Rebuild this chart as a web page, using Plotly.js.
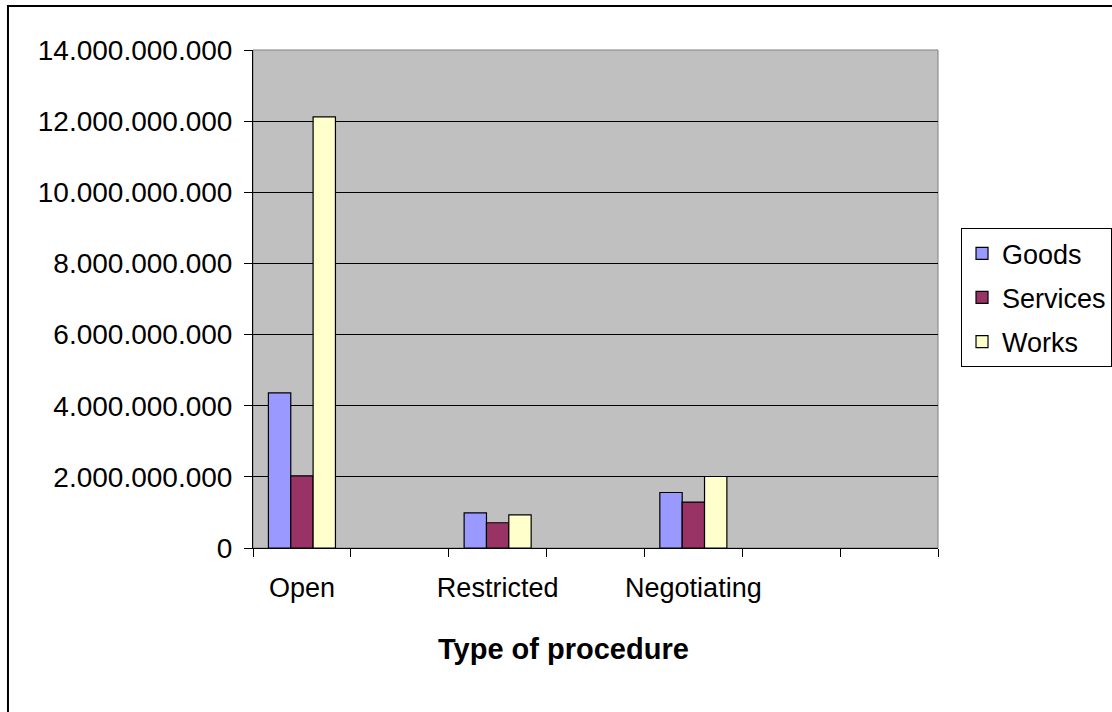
<!DOCTYPE html>
<html>
<head>
<meta charset="utf-8">
<script src="https://cdn.plot.ly/plotly-3.0.1.min.js"></script>
<style>
html,body{margin:0;padding:0;background:#fff;}
#chart{width:1112px;height:712px;}
</style>
</head>
<body>
<div id="chart"></div>
<script>
// Categories (empty slots are blank categories in the original sheet)
const categories = ['Open', ' ', 'Restricted', '  ', 'Negotiating', '   ', '    '];
const goods    = [4.36e9, null, 0.99e9, null, 1.56e9, null, null];
const services = [2.03e9, null, 0.71e9, null, 1.29e9, null, null];
const works    = [12.12e9, null, 0.93e9, null, 2.01e9, null, null];
const seriesNames = ['Goods', 'Services', 'Works'];
const seriesColors = ['#9999FF', '#993366', '#FFFFCC'];
const yTickVals = [0, 2e9, 4e9, 6e9, 8e9, 10e9, 12e9, 14e9];
const xTitle = 'Type of procedure';

const FONT = '"Liberation Sans", Arial, sans-serif';
const values = [goods, services, works];

const traces = values.map((v, i) => ({
  type: 'bar',
  name: seriesNames[i],
  x: categories,
  y: v,
  legendgroup: 'g' + i,
  marker: {color: seriesColors[i], line: {color: '#000', width: 1.2}},
  hoverinfo: 'x+y+name'
}));

const layout = {
  width: 1112, height: 712,
  paper_bgcolor: '#ffffff',
  plot_bgcolor: '#C0C0C0',
  margin: {l: 253, r: 174, t: 50, b: 164, autoexpand: false},
  font: {family: FONT, size: 27, color: '#000'},
  separators: ',.',
  barmode: 'group',
  bargap: 0.315,
  bargroupgap: 0,
  showlegend: true,
  legend: {
    x: 1.0336, xanchor: 'left', y: 0.642, yanchor: 'top',
    bgcolor: '#ffffff', bordercolor: '#000', borderwidth: 1,
    font: {family: FONT, size: 27, color: '#000'},
    traceorder: 'grouped', tracegroupgap: 6
  },
  xaxis: {
    type: 'category',
    categoryorder: 'array', categoryarray: categories,
    showgrid: false, showline: true, linecolor: '#000', linewidth: 1,
    ticks: 'outside', tickson: 'boundaries', ticklen: 8, tickcolor: '#000', tickwidth: 1,
    tickfont: {family: FONT, size: 27, color: '#000'},
    tickangle: 0,
    ticklabelstandoff: 16,
    automargin: false,
    zeroline: false, fixedrange: true
  },
  yaxis: {
    range: [0, 14e9], tickvals: yTickVals, tickformat: ',d',
    showgrid: true, gridcolor: '#000', gridwidth: 1,
    showline: true, linecolor: '#000', linewidth: 1,
    ticks: 'outside', ticklen: 8, tickcolor: '#000', tickwidth: 1,
    tickfont: {family: FONT, size: 28, color: '#000'},
    ticklabelstandoff: 6,
    automargin: false,
    zeroline: false, fixedrange: true
  },
  shapes: [
    {type: 'rect', xref: 'paper', yref: 'paper', x0: 0, x1: 1, y0: 0, y1: 1,
     line: {color: '#808080', width: 1}, layer: 'below'},
    {type: 'rect', xref: 'paper', yref: 'paper', x0: -0.3577, x1: 1.3, y0: -0.4, y1: 1.0884,
     line: {color: '#000', width: 2}, fillcolor: 'rgba(0,0,0,0)', layer: 'above'}
  ],
  annotations: [
    {text: '<b>' + xTitle + '</b>', xref: 'paper', yref: 'paper', x: 0.454, y: -0.203,
     xanchor: 'center', yanchor: 'middle', showarrow: false,
     font: {family: FONT, size: 29, color: '#000'}}
  ]
};

Plotly.newPlot('chart', traces, layout, {displayModeBar: false, staticPlot: true});
</script>
</body>
</html>
